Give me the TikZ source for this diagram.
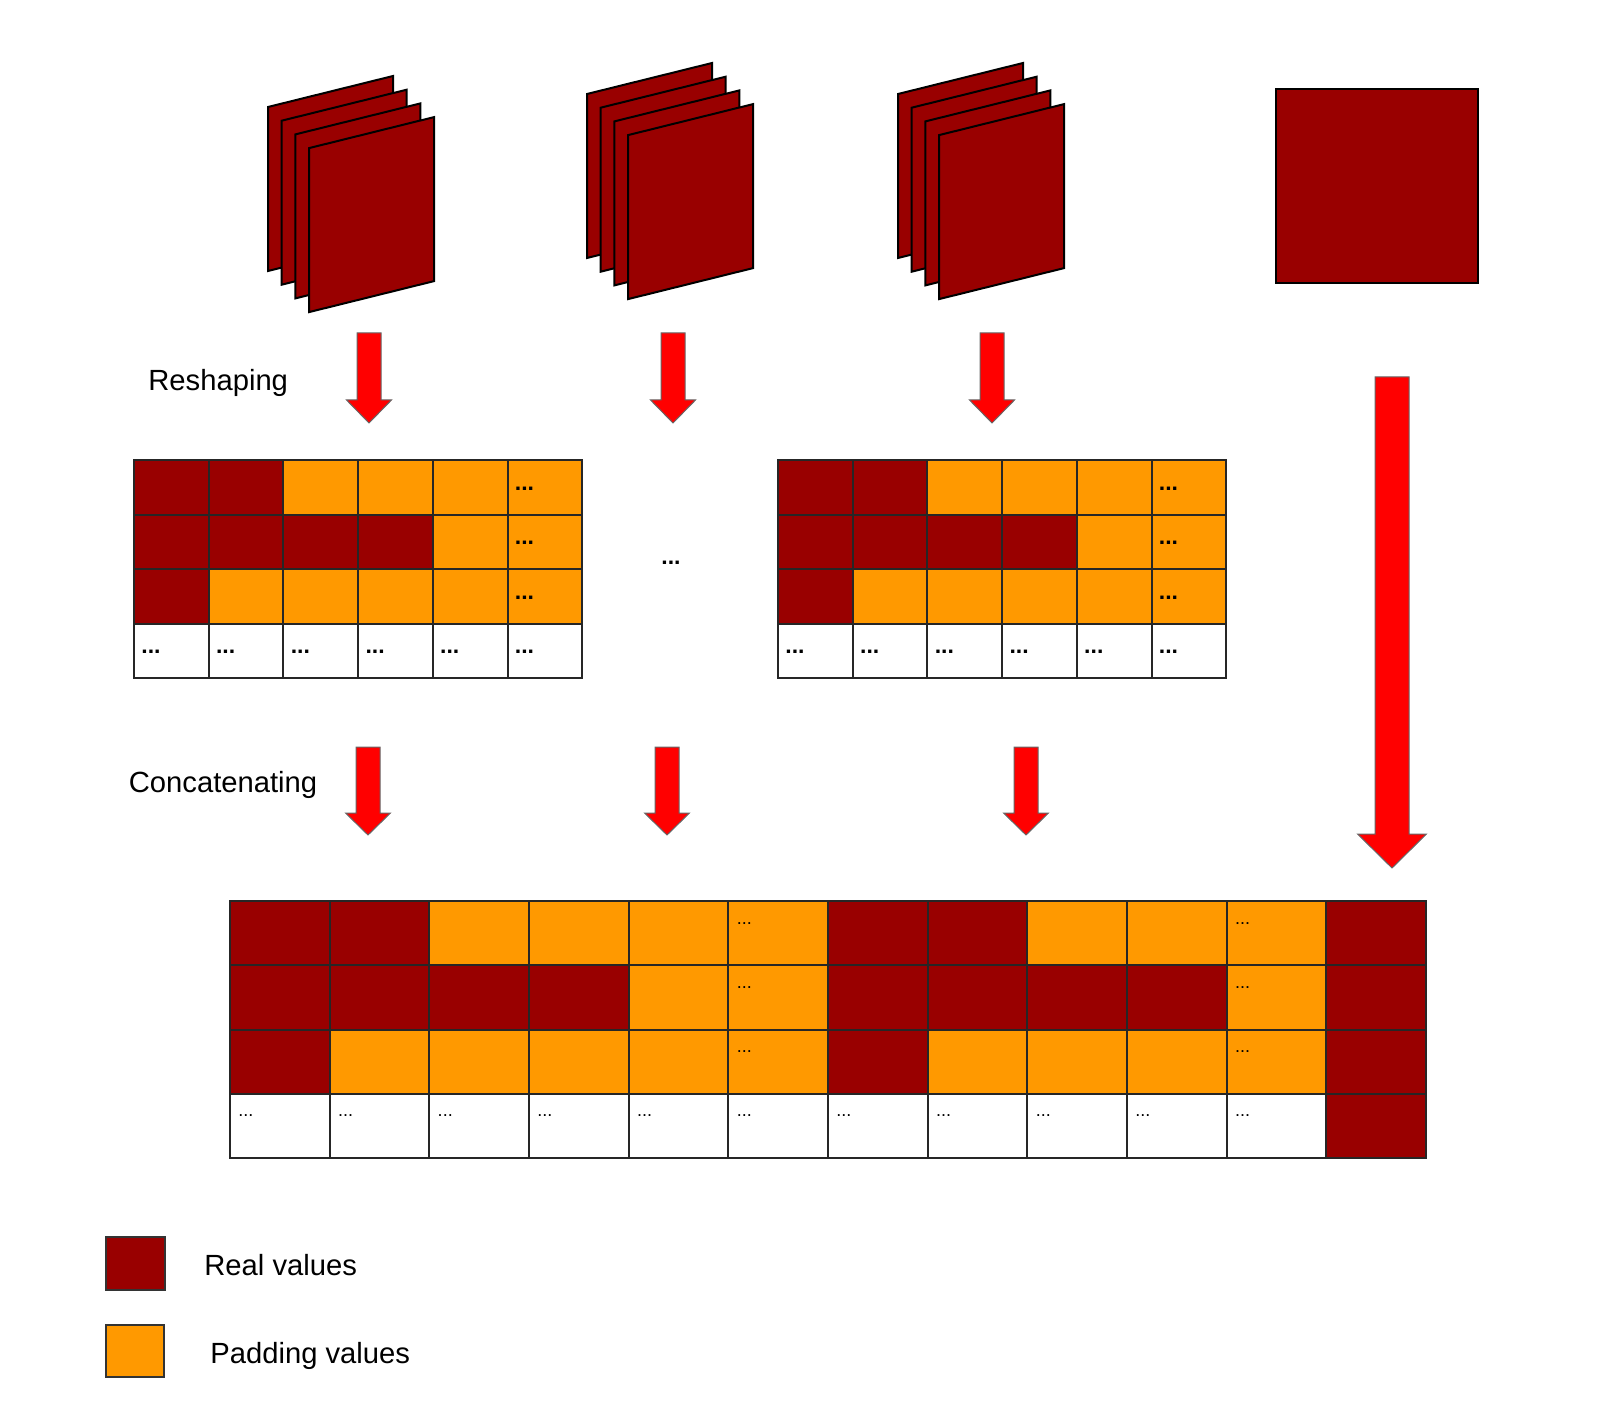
\documentclass[tikz,border=0pt]{standalone}
\usepackage{fontspec}
\setmainfont{Liberation Sans}
\usetikzlibrary{positioning}
\definecolor{creal}{HTML}{990000}
\definecolor{cpad}{HTML}{FF9900}
\definecolor{carrow}{HTML}{FF0000}
\colorlet{cR}{creal}
\colorlet{cP}{cpad}
\colorlet{cD}{cpad}
\colorlet{cE}{white}
\tikzset{
  sheet/.style={fill=creal,draw=black,line width=1pt},
  gridline/.style={draw=black!85,line width=1pt},
  blockarr/.style={fill=carrow,draw=black!60,line width=0.5pt},
  lbl/.style={font=\fontsize{14.6}{17}\selectfont,inner sep=0pt,anchor=base west},
  bigdots/.style={font=\fontsize{11.5}{12}\selectfont\bfseries,inner sep=0pt,anchor=base west},
  tinydots/.style={font=\fontsize{9}{10}\selectfont,inner sep=0pt,anchor=base west},
}
% stack of four sheets, back sheet top-left at (#1,#2)
\newcommand{\sheetstack}[2]{
  \foreach \k in {0,...,3}
    \filldraw[sheet] ({#1+13.7*\k},{#2+13.7*\k}) -- ++(125,-31) -- ++(0,164) -- ++(-125,31) -- cycle;
}
% down arrow: centre x, top, head start, tip, half shaft, half head
\newcommand{\downarr}[6]{
  \filldraw[blockarr] ({#1-#5},#2) -- ({#1+#5},#2) -- ({#1+#5},#3) -- ({#1+#6},#3)
    -- (#1,#4) -- ({#1-#6},#3) -- ({#1-#5},#3) -- cycle;
}

\begin{document}
\begin{tikzpicture}[x=0.5pt,y=-0.5pt]
\useasboundingbox (0,0) rectangle (1600,1428);

% ================= input tensors =================
\sheetstack{268}{107}
\sheetstack{587}{94}
\sheetstack{898}{94}
\filldraw[sheet] (1276,89) rectangle (1478,283);

% ================= reshaping =================
\node[lbl] (reshape) at (148,391) {Reshaping};
\downarr{369}{333}{400}{423}{12}{22.5}
\downarr{673}{333}{400}{423}{12}{22.5}
\downarr{992}{333}{400}{423}{12}{22.5}
\downarr{1392}{377}{834}{868}{17}{34.5}

% reshaped grids (left and right)
\foreach \gx [count=\g] in {134,778}
  \foreach \row [count=\j from 0] in {{R,R,P,P,P,D},{R,R,R,R,P,D},{R,P,P,P,P,D},{E,E,E,E,E,E}}
    \foreach \c [count=\i from 0] in \row {
      \path[gridline,fill=c\c] ({\gx+74.7*\i},{460+54.5*\j}) rectangle ++(74.7,54.5);
      \if\c D\node[bigdots] (g\g d\j\i) at ({\gx+74.7*\i+7},{460+54.5*\j+30}) {...};\fi
      \if\c E\node[bigdots] (g\g d\j\i) at ({\gx+74.7*\i+7},{460+54.5*\j+30}) {...};\fi
    }
\node[bigdots] (gapdots) at (661,564) {...};

% ================= concatenating =================
\node[lbl] (concat) at (128.5,792) {Concatenating};
\downarr{368}{747}{813}{835}{12}{22.5}
\downarr{667}{747}{813}{835}{12}{22.5}
\downarr{1026}{747}{813}{835}{12}{22.5}

% concatenated grid
\foreach \row [count=\j from 0] in {{R,R,P,P,P,D,R,R,P,P,D,R},{R,R,R,R,P,D,R,R,R,R,D,R},{R,P,P,P,P,D,R,P,P,P,D,R},{E,E,E,E,E,E,E,E,E,E,E,R}}
  \foreach \c [count=\i from 0] in \row {
    \path[gridline,fill=c\c] ({230+99.67*\i},{901+64.25*\j}) rectangle ++(99.67,64.25);
    \if\c D\node[tinydots] (cd\j-\i) at ({230+99.67*\i+8},{901+64.25*\j+23}) {...};\fi
    \if\c E\node[tinydots] (cd\j-\i) at ({230+99.67*\i+8},{901+64.25*\j+23}) {...};\fi
  }

% ================= legend =================
\filldraw[fill=creal,draw=black!80,line width=1pt] (106,1237) rectangle (165,1290);
\node[lbl] (realtxt) at (204,1275) {Real values};
\filldraw[fill=cpad,draw=black!80,line width=1pt] (106,1325) rectangle (164,1377);
\node[lbl] (padtxt) at (210,1363) {Padding values};
\end{tikzpicture}
\end{document}
